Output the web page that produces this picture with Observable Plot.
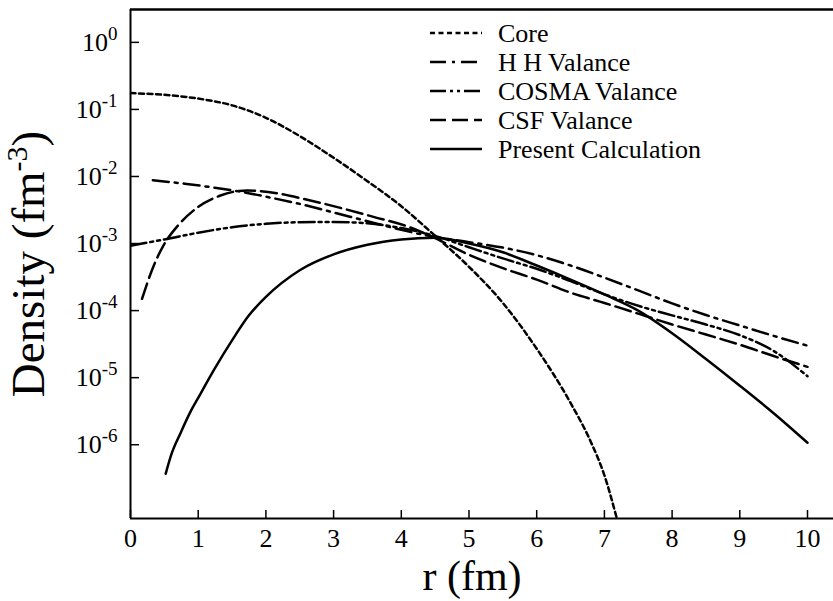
<!DOCTYPE html>
<html><head><meta charset="utf-8">
<script src="https://cdn.jsdelivr.net/npm/d3@7"></script>
<script src="https://cdn.jsdelivr.net/npm/@observablehq/plot@0.6"></script>
<style>
html,body{margin:0;padding:0;background:#fff;}
#wrap{position:relative;width:833px;height:601px;overflow:hidden;background:#fff;}
#wrap svg{display:block;}
</style></head><body><div id="wrap"></div>
<script>
// ---- data ----
const seriesNames = ["Core", "H H Valance", "COSMA Valance", "CSF Valance", "Present Calculation"];

const rCore = [0, 0.5, 1.0, 1.5, 2.0, 2.5, 3.0, 3.5, 4.0, 4.5, 5.0, 5.5, 6.0, 6.5, 6.8, 7.0, 7.18];
const core  = [0.175, 0.165, 0.145, 0.115, 0.075, 0.04, 0.019, 0.0085, 0.0036, 0.0013, 4.5e-4, 1.3e-4, 2.7e-5, 4.2e-6, 1.1e-6, 3.5e-7, 8.2e-8];

const rHH = [0.33, 0.8, 1.2, 1.6, 2.0, 2.5, 3.0, 3.5, 4.0, 4.5, 5.0, 5.5, 6.0, 6.5, 7.0, 7.5, 8.0, 8.5, 9.0, 9.5, 10];
const hh  = [8.8e-3, 7.8e-3, 6.9e-3, 6.0e-3, 5.0e-3, 3.9e-3, 2.9e-3, 2.15e-3, 1.6e-3, 1.25e-3, 1.05e-3, 8.7e-4, 6.7e-4, 4.7e-4, 3.1e-4, 2.0e-4, 1.28e-4, 8.6e-5, 6.0e-5, 4.2e-5, 3.0e-5];

const rCOSMA = [0, 0.5, 1.0, 1.5, 2.0, 2.5, 3.0, 3.5, 4.0, 4.5, 5.0, 5.5, 6.0, 6.5, 7.0, 7.5, 8.0, 8.5, 9.0, 9.5, 10];
const cosma  = [9.3e-4, 1.15e-3, 1.45e-3, 1.75e-3, 1.97e-3, 2.08e-3, 2.1e-3, 2.0e-3, 1.7e-3, 1.3e-3, 8.8e-4, 6.0e-4, 4.2e-4, 2.75e-4, 1.75e-4, 1.18e-4, 8.5e-5, 6.2e-5, 4.3e-5, 2.5e-5, 1.05e-5];

const rCSF = [0.17, 0.34, 0.49, 0.69, 0.98, 1.33, 1.72, 2.17, 2.61, 3.10, 3.59, 4.09, 4.5, 5.0, 5.5, 6.0, 6.5, 7.0, 7.5, 8.0, 8.5, 9.0, 9.5, 10];
const csf  = [1.5e-4, 4.6e-4, 9.5e-4, 1.8e-3, 3.4e-3, 5.2e-3, 6.2e-3, 5.6e-3, 4.5e-3, 3.4e-3, 2.5e-3, 1.8e-3, 1.2e-3, 6.8e-4, 4.3e-4, 2.9e-4, 1.85e-4, 1.3e-4, 9e-5, 6.2e-5, 4.4e-5, 3.1e-5, 2.1e-5, 1.45e-5];

const rPres = [0.52, 0.6, 0.74, 0.9, 1.0, 1.25, 1.5, 1.75, 2.0, 2.5, 3.0, 3.5, 4.0, 4.5, 5.0, 5.5, 6.0, 6.5, 7.0, 7.5, 8.0, 8.5, 9.0, 9.5, 10];
const pres  = [3.7e-7, 7e-7, 1.5e-6, 3.3e-6, 5e-6, 1.4e-5, 3.6e-5, 8.5e-5, 1.6e-4, 4.0e-4, 6.9e-4, 9.6e-4, 1.15e-3, 1.22e-3, 1.0e-3, 7.4e-4, 4.7e-4, 2.9e-4, 1.74e-4, 1.0e-4, 4.6e-5, 1.9e-5, 7.6e-6, 2.95e-6, 1.07e-6];

const xTicks = [0, 1, 2, 3, 4, 5, 6, 7, 8, 9, 10];
const yTicks = [1, 1e-1, 1e-2, 1e-3, 1e-4, 1e-5, 1e-6];
const yExp   = ["0", "-1", "-2", "-3", "-4", "-5", "-6"];
const xDomain = [0, 10.384];
const yDomain = [7.94e-8, 3.09];

// ---- styles ----
const dashes = ["5,3.5", "16,6,3,6", "16,4,3,4,3,4", "16,6", null];
const FONT = "'Liberation Serif', 'Times New Roman', Times, serif";

const mk = (rs, vs) => rs.map((r, i) => ({r, v: vs[i]}));
const seriesData = [mk(rCore, core), mk(rHH, hh), mk(rCOSMA, cosma), mk(rCSF, csf), mk(rPres, pres)];

const W = 833, H = 601, ML = 130, MR = 0, MT = 9, MB = 83;
const PW = W - ML - MR, PH = H - MT - MB;

const plot = Plot.plot({
  width: W, height: H,
  marginLeft: ML, marginRight: MR, marginTop: MT, marginBottom: MB,
  style: {fontFamily: FONT, fontSize: "26px", color: "#000", background: "#fff"},
  x: {domain: xDomain},
  y: {type: "log", domain: yDomain},
  marks: [
    ...seriesData.map((d, i) => Plot.line(d, {
      x: "r", y: "v", stroke: "#000", strokeWidth: 2.5,
      strokeDasharray: dashes[i] || undefined, curve: "monotone-x", clip: true
    })),
    Plot.ruleX([xDomain[0]], {stroke: "#000", strokeWidth: 2}),
    Plot.ruleY([yDomain[0]], {stroke: "#000", strokeWidth: 2}),
    Plot.ruleY([yDomain[1]], {stroke: "#000", strokeWidth: 2.5}),
    Plot.tickX(xTicks, {x: d => d, insetTop: PH - 8, stroke: "#000", strokeWidth: 1.5}),
    Plot.tickY(yTicks, {y: d => d, insetRight: PW - 9, stroke: "#000", strokeWidth: 1.5}),
    Plot.axisX({ticks: xTicks, tickSize: 0, tickPadding: 10, fontSize: 26, label: null, tickFormat: d => String(d)}),
    Plot.axisY({ticks: yTicks, tickSize: 0, tickPadding: 13, fontSize: 26, label: null,
      tickFormat: d => "10^" + yExp[yTicks.findIndex(t => Math.abs(Math.log10(t) - Math.log10(d)) < 1e-6)]}),
    Plot.text(["r (fm)"], {frameAnchor: "bottom", dx: -10, dy: 58, fontSize: 42, lineAnchor: "middle", text: d => d}),
    Plot.text(["Density (fm-3)"], {frameAnchor: "left", rotate: -90, dx: -102, dy: 0, fontSize: 47,
      textAnchor: "middle", lineAnchor: "middle", text: d => d})
  ]
});

const wrap = document.getElementById("wrap");
wrap.appendChild(plot);

// superscripts on y tick labels and y title
const svgNS = "http://www.w3.org/2000/svg";
plot.querySelectorAll("text").forEach(t => {
  const s = t.textContent;
  if (/^10\^/.test(s)) {
    const e = s.slice(3);
    t.textContent = "10";
    const sp = document.createElementNS(svgNS, "tspan");
    sp.setAttribute("dy", "-11");
    sp.setAttribute("font-size", "19");
    sp.textContent = e;
    t.appendChild(sp);
  } else if (s === "Density (fm-3)") {
    t.textContent = "Density (fm";
    const sp = document.createElementNS(svgNS, "tspan");
    sp.setAttribute("dy", "-17");
    sp.setAttribute("font-size", "30");
    sp.textContent = "-3";
    t.appendChild(sp);
    const cp = document.createElementNS(svgNS, "tspan");
    cp.setAttribute("dy", "17");
    cp.setAttribute("font-size", "47");
    cp.textContent = ")";
    t.appendChild(cp);
  }
});

// legend (inside the plot area, top right)
const leg = d3.create("svg")
  .attr("width", W).attr("height", H)
  .style("position", "absolute").style("left", "0px").style("top", "0px")
  .style("pointer-events", "none");
const LX1 = 430, LX2 = 482, TX = 498, LY0 = 33, LDY = 29;
seriesNames.forEach((name, i) => {
  const y = LY0 + i * LDY;
  leg.append("line").attr("x1", LX1).attr("x2", LX2).attr("y1", y).attr("y2", y)
    .attr("stroke", "#000").attr("stroke-width", 2.5)
    .attr("stroke-dasharray", dashes[i] || null);
  leg.append("text").attr("x", TX).attr("y", y).attr("dy", "0.35em")
    .attr("font-family", FONT).attr("font-size", 26).attr("fill", "#000")
    .text(name);
});
wrap.appendChild(leg.node());
</script>
</body></html>
